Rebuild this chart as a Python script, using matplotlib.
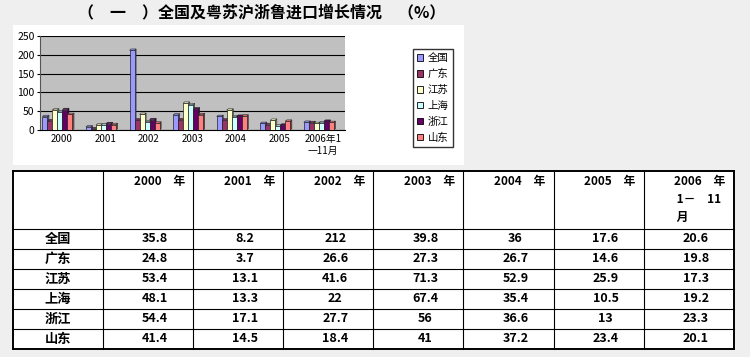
import numpy as np
import matplotlib
matplotlib.use("Agg")
import matplotlib.pyplot as plt
import matplotlib.patches as mpatches
import matplotlib.colors as mcolors

plt.rcParams['font.family'] = ['Noto Sans CJK SC', 'DejaVu Sans']

# data
years = ['2000', '2001', '2002', '2003', '2004', '2005', '2006年1\n一11月']
header_labels = ['2000　年', '2001　年', '2002　年', '2003　年', '2004　年', '2005　年', '2006　年\n 1－　11\n 月']
regions = ['全国', '广东', '江苏', '上海', '浙江', '山东']
quanguo = [35.8, 8.2, 212, 39.8, 36, 17.6, 20.6]
guangdong = [24.8, 3.7, 26.6, 27.3, 26.7, 14.6, 19.8]
jiangsu = [53.4, 13.1, 41.6, 71.3, 52.9, 25.9, 17.3]
shanghai = [48.1, 13.3, 22, 67.4, 35.4, 10.5, 19.2]
zhejiang = [54.4, 17.1, 27.7, 56, 36.6, 13, 23.3]
shandong = [41.4, 14.5, 18.4, 41, 37.2, 23.4, 20.1]
table_text = ['35.8', '8.2', '212', '39.8', '36', '17.6', '20.6',
              '24.8', '3.7', '26.6', '27.3', '26.7', '14.6', '19.8',
              '53.4', '13.1', '41.6', '71.3', '52.9', '25.9', '17.3',
              '48.1', '13.3', '22', '67.4', '35.4', '10.5', '19.2',
              '54.4', '17.1', '27.7', '56', '36.6', '13', '23.3',
              '41.4', '14.5', '18.4', '41', '37.2', '23.4', '20.1']
series = [quanguo, guangdong, jiangsu, shanghai, zhejiang, shandong]
colors = ['#9999ff', '#993366', '#ffffcc', '#ccffff', '#660066', '#ff8080']

W, H = 750, 357
fig = plt.figure(figsize=(W / 100, H / 100), dpi=100)
fig.patch.set_facecolor('#efefef')

# overlay in pixel coords for panels, title and table
bg = fig.add_axes([0, 0, 1, 1])
bg.set_xlim(0, W)
bg.set_ylim(H, 0)
bg.axis('off')
bg.add_patch(mpatches.Rectangle((13, 25), 451, 140, facecolor='white', edgecolor='none'))
bg.text(262, 12, '（　一　）全国及粤苏沪浙鲁进口增长情况　（%）', ha='center', va='center',
        fontsize=11.5, fontweight='bold')

# table
col_x = [13, 103] + [103 + 90.1 * (i + 1) for i in range(7)]
row_y = [171, 229] + [229 + 20 * (i + 1) for i in range(6)]
bg.add_patch(mpatches.Rectangle((col_x[0], row_y[0]), col_x[-1] - col_x[0], row_y[-1] - row_y[0],
                                facecolor='white', edgecolor='none'))
for xx in col_x:
    lw = 1.4 if xx in (col_x[0], col_x[-1]) else 0.8
    bg.plot([xx, xx], [row_y[0], row_y[-1]], color='black', lw=lw)
for yy in row_y:
    lw = 1.4 if yy in (row_y[0], row_y[-1]) else 0.8
    bg.plot([col_x[0], col_x[-1]], [yy, yy], color='black', lw=lw)

for j, lab in enumerate(header_labels):
    bg.text(col_x[j + 2] - 8, row_y[0] + 4, lab, ha='right', va='top', fontsize=8.5,
            fontweight='bold', linespacing=1.5, multialignment='left')
for i, reg in enumerate(regions):
    yc = (row_y[i + 1] + row_y[i + 2]) / 2
    bg.text((col_x[0] + col_x[1]) / 2, yc, reg, ha='center', va='center', fontsize=9.5, fontweight='bold')
    for j in range(7):
        xc = (col_x[j + 1] + col_x[j + 2]) / 2 + 7
        bg.text(xc, yc, table_text[i * 7 + j], ha='center', va='center', fontsize=9, fontweight='bold')

# bar chart
ax = fig.add_axes([40 / W, 1 - 130 / H, 305 / W, 94 / H])
ax.set_facecolor('#c0c0c0')
x = np.arange(len(years))
bw = 0.115
dx, dy = 0.035, 3.5  # fake 3d depth
handles = []
for k, vals in enumerate(series):
    bars = ax.bar(x - 0.1 + (k - 2.5) * bw, vals, bw, color=colors[k], edgecolor='#222222',
                  linewidth=0.5, zorder=3)
    dark = tuple(c * 0.6 for c in mcolors.to_rgb(colors[k]))
    for b in bars:
        x0, w, h = b.get_x(), b.get_width(), b.get_height()
        side = mpatches.Polygon([(x0 + w, 0), (x0 + w + dx, dy), (x0 + w + dx, h + dy), (x0 + w, h)],
                                facecolor=dark, edgecolor='#222222', linewidth=0.4, zorder=2.9)
        top = mpatches.Polygon([(x0, h), (x0 + dx, h + dy), (x0 + w + dx, h + dy), (x0 + w, h)],
                               facecolor=colors[k], edgecolor='#222222', linewidth=0.4, zorder=2.9)
        ax.add_patch(side)
        ax.add_patch(top)
    handles.append(mpatches.Patch(facecolor=colors[k], edgecolor='black', linewidth=0.6, label=regions[k]))
ax.set_xlim(-0.5, len(years) - 0.5)
ax.set_ylim(0, 250)
ax.set_yticks(range(0, 251, 50))
ax.grid(axis='y', color='black', linewidth=0.8, zorder=1)
ax.set_xticks(x)
ax.set_xticklabels(years, fontsize=7)
ax.tick_params(axis='y', labelsize=7.5, length=2, pad=2)
ax.tick_params(axis='x', length=0, pad=3)
for s in ['top', 'right']:
    ax.spines[s].set_visible(False)
ax.spines['left'].set_color('#555555')
ax.spines['bottom'].set_color('black')

fig.legend(handles=handles, loc='upper left', bbox_to_anchor=(413 / W, 1 - 49 / H),
           fontsize=7.5, frameon=True, fancybox=False, edgecolor='black',
           handlelength=0.6, handleheight=0.6, handletextpad=0.4, labelspacing=0.55,
           borderpad=0.4, borderaxespad=0)

fig.savefig('out.png', dpi=100, facecolor=fig.get_facecolor())
